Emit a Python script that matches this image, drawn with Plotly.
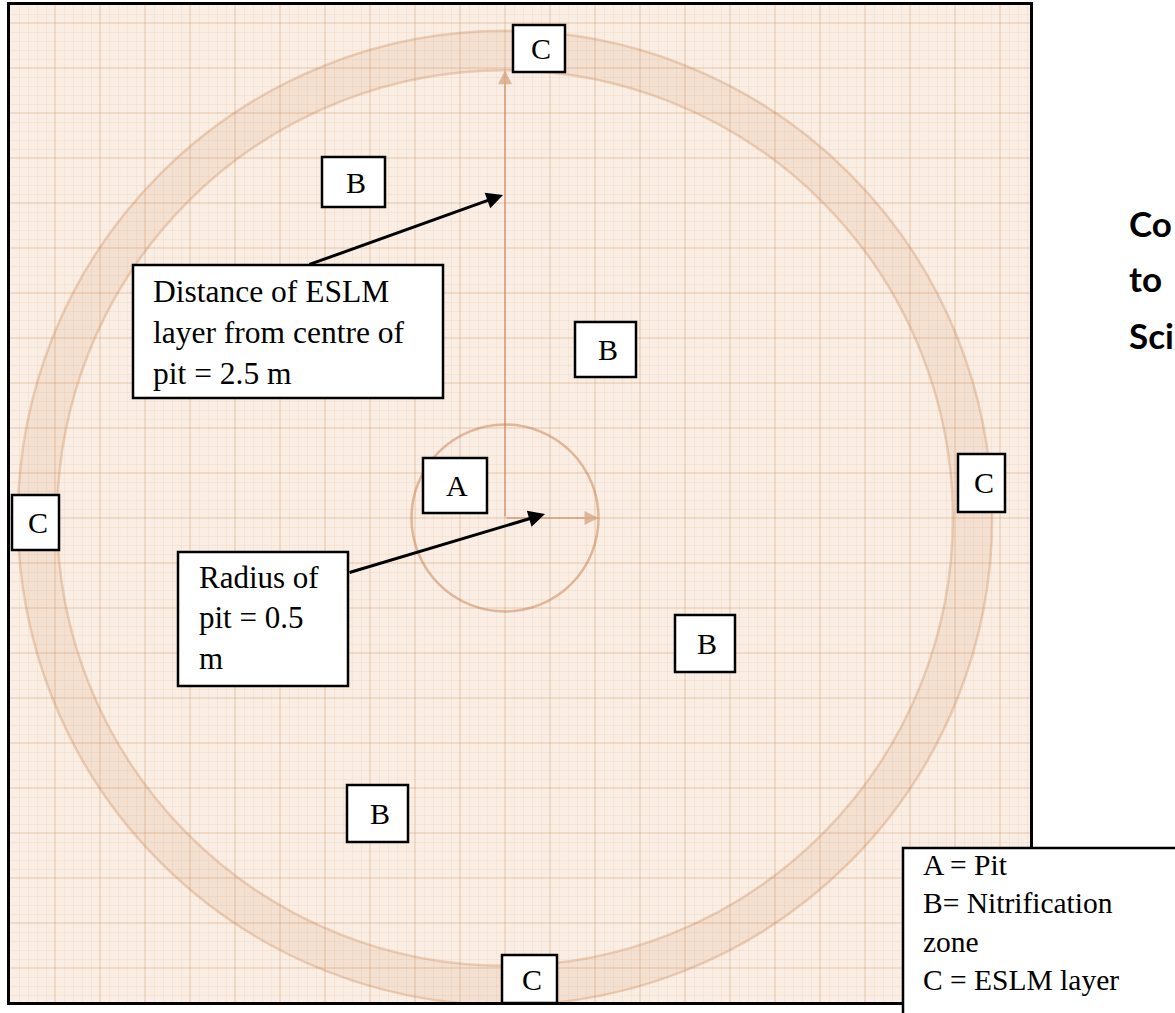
"""Pit / nitrification zone / ESLM layer sketch on graph paper"""

import plotly.graph_objects as go

# distances written on the sketch (metres)
pit_radius_m = 0.5
eslm_distance_m = 2.5
eslm_band_m = 0.21

# zone letter boxes
zone_letters = ["C", "B", "B", "A", "C", "C", "B", "B", "C"]

# callout and legend text
distance_lines = ["Distance of ESLM", "layer from centre of", f"pit = {eslm_distance_m} m"]
radius_lines = ["Radius of", f"pit = {pit_radius_m}", "m"]
legend_lines = ["A = Pit", "B= Nitrification", "zone", "C = ESLM layer"]
side_lines = ["Co", "to", "Sci"]

# page geometry (pixels)
W, H = 1175, 1013
FRAME = (10, 5, 1030, 1002)
CENTRE = (505, 518)
PX_PER_M = 187

PAPER = "#faeee4"
PENCIL = "rgba(198,128,80,0.50)"
PENCIL_BAND = "rgba(205,140,95,0.14)"
SERIF = "Liberation Serif, Times New Roman, serif"


def to_m(px, py):
    """page pixel -> metres from pit centre"""
    return (px - CENTRE[0]) / PX_PER_M, (CENTRE[1] - py) / PX_PER_M


def to_paper(px, py):
    """page pixel -> paper fraction of the framed area"""
    x0, y0, x1, y1 = FRAME
    return (px - x0) / (x1 - x0), (y1 - py) / (y1 - y0)


zone_boxes = [
    (513, 25, 565, 72),
    (322, 157, 385, 207),
    (575, 322, 636, 377),
    (423, 458, 487, 513),
    (958, 454, 1005, 512),
    (12, 495, 59, 550),
    (675, 615, 735, 672),
    (347, 785, 408, 842),
    (502, 955, 557, 1003),
]

fig = go.Figure()

x_lo, y_hi = to_m(FRAME[0], FRAME[1])
x_hi, y_lo = to_m(FRAME[2], FRAME[3])
major = 45 / PX_PER_M

axis_style = dict(
    showticklabels=False, ticks="", zeroline=False,
    showgrid=True, gridcolor="rgba(206,150,110,0.24)", gridwidth=1.5,
    tick0=0, dtick=major,
    minor=dict(showgrid=True, dtick=major / 5, gridcolor="rgba(214,168,134,0.13)", gridwidth=1),
    showline=True, mirror=True, linecolor="black", linewidth=2.5,
    fixedrange=True,
)
fig.update_xaxes(range=[x_lo, x_hi], **axis_style)
fig.update_yaxes(range=[y_lo, y_hi], **axis_style)

shapes = []

# ESLM ring drawn in pencil
shapes.append(dict(type="circle", xref="x", yref="y", layer="above",
                   x0=-eslm_distance_m, x1=eslm_distance_m,
                   y0=-eslm_distance_m, y1=eslm_distance_m,
                   line=dict(color=PENCIL_BAND, width=eslm_band_m * PX_PER_M)))
for r in (eslm_distance_m - eslm_band_m / 2, eslm_distance_m + eslm_band_m / 2):
    shapes.append(dict(type="circle", xref="x", yref="y", layer="above",
                       x0=-r, x1=r, y0=-r, y1=r,
                       line=dict(color="rgba(198,128,80,0.30)", width=2.5)))

# pit
shapes.append(dict(type="circle", xref="x", yref="y", layer="above",
                   x0=-pit_radius_m, x1=pit_radius_m,
                   y0=-pit_radius_m, y1=pit_radius_m,
                   line=dict(color=PENCIL, width=2.5)))

# white label boxes
box_line = dict(color="black", width=2.5)
for bx in zone_boxes + [(133, 265, 443, 398), (178, 552, 348, 686), (903, 848, 1185, 1025)]:
    px0, py1 = to_paper(bx[0], bx[3])
    px1, py0 = to_paper(bx[2], bx[1])
    shapes.append(dict(type="rect", xref="paper", yref="paper", layer="above",
                       x0=px0, x1=px1, y0=py1, y1=py0,
                       fillcolor="white", line=box_line))

annotations = []

# pencil arrows: centre to ESLM layer, centre to pit edge
annotations.append(dict(x=0, y=eslm_distance_m - eslm_band_m / 2, ax=0, ay=0,
                        xref="x", yref="y", axref="x", ayref="y", text="",
                        showarrow=True, arrowhead=2, arrowsize=1.4, arrowwidth=2,
                        arrowcolor=PENCIL))
annotations.append(dict(x=pit_radius_m, y=0, ax=0, ay=0,
                        xref="x", yref="y", axref="x", ayref="y", text="",
                        showarrow=True, arrowhead=2, arrowsize=1.4, arrowwidth=2,
                        arrowcolor=PENCIL))

# black callout arrows
for tail, tip in [((308, 265), (503, 195)), ((348, 573), (545, 514))]:
    tx, ty = to_m(*tail)
    hx, hy = to_m(*tip)
    annotations.append(dict(x=hx, y=hy, ax=tx, ay=ty,
                            xref="x", yref="y", axref="x", ayref="y", text="",
                            showarrow=True, arrowhead=2, arrowsize=1.1, arrowwidth=3,
                            arrowcolor="black", standoff=0, startstandoff=0))

# zone letters
for letter, bx in zip(zone_letters, zone_boxes):
    cx, cy = to_paper((bx[0] + bx[2]) / 2 + 2, (bx[1] + bx[3]) / 2)
    annotations.append(dict(x=cx, y=cy, xref="paper", yref="paper", text=letter,
                            showarrow=False, xanchor="center", yanchor="middle",
                            font=dict(family=SERIF, size=30, color="black")))

# multi-line callouts
for lines, (lx, ly), size in [(distance_lines, (151, 333), 31.5),
                              (radius_lines, (197, 618), 31),
                              (legend_lines, (921, 922), 29.5)]:
    px, py = to_paper(lx, ly)
    annotations.append(dict(x=px, y=py, xref="paper", yref="paper",
                            text="<br>".join(lines), align="left",
                            showarrow=False, xanchor="left", yanchor="middle",
                            font=dict(family=SERIF, size=size, color="black")))

# cut-off bold text on the right
for line, base in zip(side_lines, [235, 290, 347]):
    px, py = to_paper(1127, base - 12)
    annotations.append(dict(x=px, y=py, xref="paper", yref="paper", text=f"<b>{line}</b>",
                            showarrow=False, xanchor="left", yanchor="middle",
                            font=dict(family="Lato, Noto Sans, sans-serif", size=35,
                                      color="black")))

fig.update_layout(
    width=W, height=H,
    margin=dict(l=FRAME[0], r=W - FRAME[2], t=FRAME[1], b=H - FRAME[3], autoexpand=False),
    paper_bgcolor="white", plot_bgcolor=PAPER,
    showlegend=False,
    shapes=shapes, annotations=annotations,
)

fig.write_html("out.html", config={"displayModeBar": False},
               post_script="document.body.style.margin = '0';")
